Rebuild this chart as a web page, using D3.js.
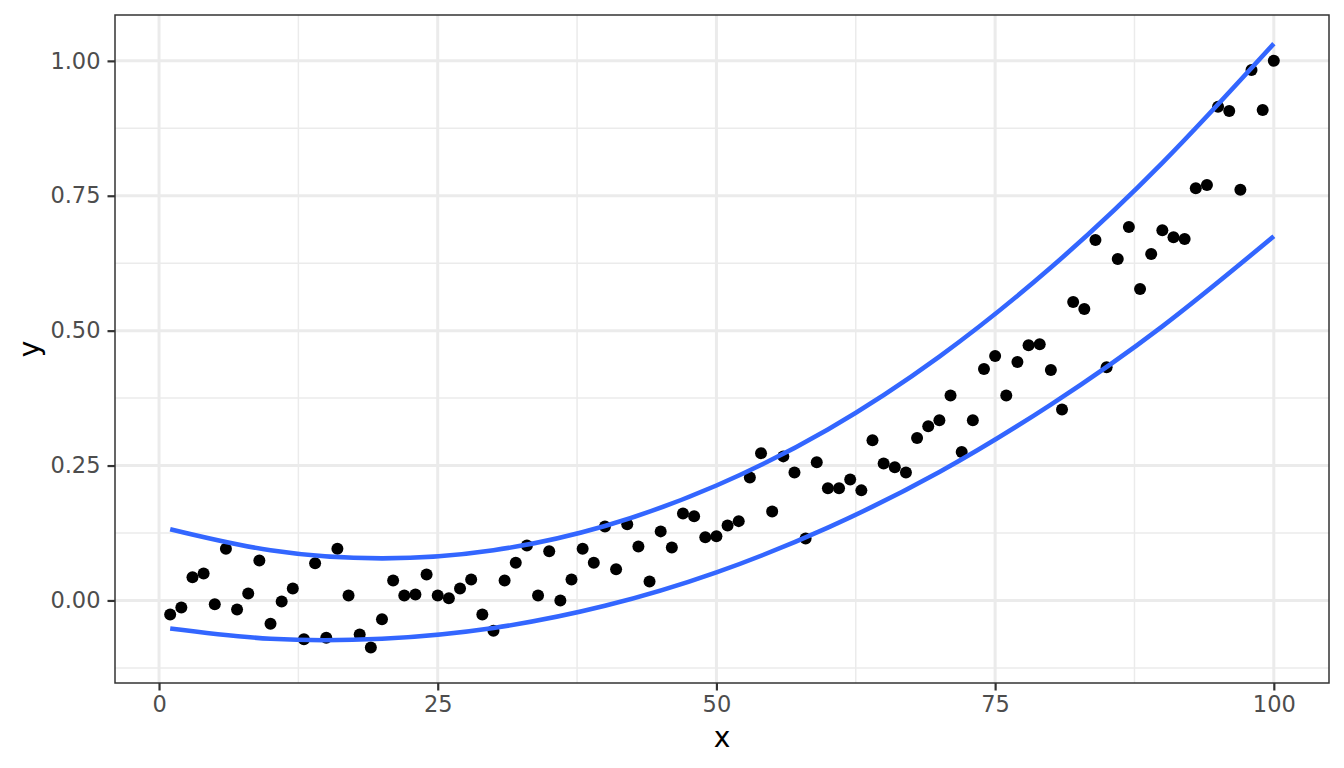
<!DOCTYPE html>
<html>
<head>
<meta charset="utf-8">
<script src="https://cdn.jsdelivr.net/npm/d3@7"></script>
<style>
  body { margin: 0; background: #fff; }
  text { font-family: "DejaVu Sans", sans-serif; }
</style>
</head>
<body>
<script>
// observed y values for x = 1..100
const yValues = [
  -0.026, -0.013, 0.043, 0.050, -0.007, 0.096, -0.017, 0.013, 0.074, -0.043,
  -0.002, 0.022, -0.072, 0.069, -0.069, 0.096, 0.009, -0.063, -0.087, -0.035,
  0.037, 0.009, 0.011, 0.048, 0.009, 0.004, 0.022, 0.039, -0.026, -0.056,
  0.037, 0.070, 0.102, 0.009, 0.091, 0.000, 0.039, 0.096, 0.070, 0.137,
  0.058, 0.141, 0.100, 0.035, 0.128, 0.098, 0.161, 0.156, 0.117, 0.119,
  0.139, 0.147, 0.228, 0.273, 0.165, 0.267, 0.237, 0.115, 0.256, 0.208,
  0.208, 0.224, 0.204, 0.297, 0.254, 0.247, 0.237, 0.301, 0.323, 0.334,
  0.380, 0.275, 0.334, 0.429, 0.453, 0.380, 0.442, 0.473, 0.475, 0.427,
  0.354, 0.553, 0.540, 0.668, 0.432, 0.633, 0.692, 0.577, 0.642, 0.686,
  0.673, 0.670, 0.764, 0.770, 0.915, 0.907, 0.761, 0.983, 0.909, 1.000
];
const xValues = d3.range(1, 101);

// quantile curves, read at these x positions
const curveX = [1, 10, 20, 30, 40, 50, 60, 70, 80, 90, 100];
const upperY = [0.132, 0.093, 0.078, 0.093, 0.138, 0.213, 0.317, 0.452, 0.617, 0.811, 1.032];
const lowerY = [-0.052, -0.071, -0.071, -0.051, -0.010, 0.052, 0.135, 0.238, 0.363, 0.508, 0.675];

const xTicks = [0, 25, 50, 75, 100];
const yTicks = [0, 0.25, 0.5, 0.75, 1];

const width = 1344, height = 768;
const margin = {top: 15, right: 15, bottom: 85, left: 115};

const svg = d3.select("body").append("svg")
  .attr("width", width)
  .attr("height", height);

const x = d3.scaleLinear()
  .domain([-3.95, 104.95])
  .range([margin.left, width - margin.right]);

const y = d3.scaleLinear()
  .domain([-0.153, 1.085])
  .range([height - margin.bottom, margin.top]);

// grid, minor then major
const minorX = xTicks.slice(0, -1).map((d, i) => (d + xTicks[i + 1]) / 2);
const minorY = [-0.125].concat(yTicks.slice(0, -1).map((d, i) => (d + yTicks[i + 1]) / 2));

const grid = svg.append("g");
grid.selectAll(".mx").data(minorX).join("line")
  .attr("x1", d => x(d)).attr("x2", d => x(d))
  .attr("y1", margin.top).attr("y2", height - margin.bottom)
  .attr("stroke", "#ebebeb").attr("stroke-width", 1.5);
grid.selectAll(".my").data(minorY).join("line")
  .attr("y1", d => y(d)).attr("y2", d => y(d))
  .attr("x1", margin.left).attr("x2", width - margin.right)
  .attr("stroke", "#ebebeb").attr("stroke-width", 1.5);
grid.selectAll(".Mx").data(xTicks).join("line")
  .attr("x1", d => x(d)).attr("x2", d => x(d))
  .attr("y1", margin.top).attr("y2", height - margin.bottom)
  .attr("stroke", "#ebebeb").attr("stroke-width", 3);
grid.selectAll(".My").data(yTicks).join("line")
  .attr("y1", d => y(d)).attr("y2", d => y(d))
  .attr("x1", margin.left).attr("x2", width - margin.right)
  .attr("stroke", "#ebebeb").attr("stroke-width", 3);

// points
svg.append("g").selectAll("circle")
  .data(xValues)
  .join("circle")
  .attr("cx", d => x(d))
  .attr("cy", (d, i) => y(yValues[i]))
  .attr("r", 6)
  .attr("fill", "#000");

// quantile lines
const line = d3.line()
  .x(d => x(d[0]))
  .y(d => y(d[1]))
  .curve(d3.curveNatural);

[upperY, lowerY].forEach(vals => {
  svg.append("path")
    .datum(curveX.map((d, i) => [d, vals[i]]))
    .attr("d", line)
    .attr("fill", "none")
    .attr("stroke", "#3366FF")
    .attr("stroke-width", 4.6);
});

// panel border
svg.append("rect")
  .attr("x", margin.left).attr("y", margin.top)
  .attr("width", width - margin.left - margin.right)
  .attr("height", height - margin.top - margin.bottom)
  .attr("fill", "none")
  .attr("stroke", "#333333")
  .attr("stroke-width", 1.5);

// axes
const xAxis = svg.append("g")
  .attr("transform", "translate(0," + (height - margin.bottom) + ")")
  .call(d3.axisBottom(x).tickValues(xTicks).tickSize(7.5).tickPadding(6).tickFormat(d3.format("d")));
const yAxis = svg.append("g")
  .attr("transform", "translate(" + margin.left + ",0)")
  .call(d3.axisLeft(y).tickValues(yTicks).tickSize(7.5).tickPadding(7).tickFormat(d3.format(".2f")));

[xAxis, yAxis].forEach(g => {
  g.select(".domain").remove();
  g.selectAll(".tick line").attr("stroke", "#333333").attr("stroke-width", 2.2);
  g.selectAll(".tick text")
    .attr("fill", "#4d4d4d")
    .style("font-size", "22.5px")
    .style("font-family", "DejaVu Sans, sans-serif");
});

// axis titles
svg.append("text")
  .attr("x", (margin.left + width - margin.right) / 2)
  .attr("y", 747)
  .attr("text-anchor", "middle")
  .style("font-size", "28px")
  .attr("fill", "#000")
  .text("x");

svg.append("text")
  .attr("transform", "translate(39," + ((margin.top + height - margin.bottom) / 2) + ") rotate(-90)")
  .attr("text-anchor", "middle")
  .style("font-size", "28px")
  .attr("fill", "#000")
  .text("y");
</script>
</body>
</html>
